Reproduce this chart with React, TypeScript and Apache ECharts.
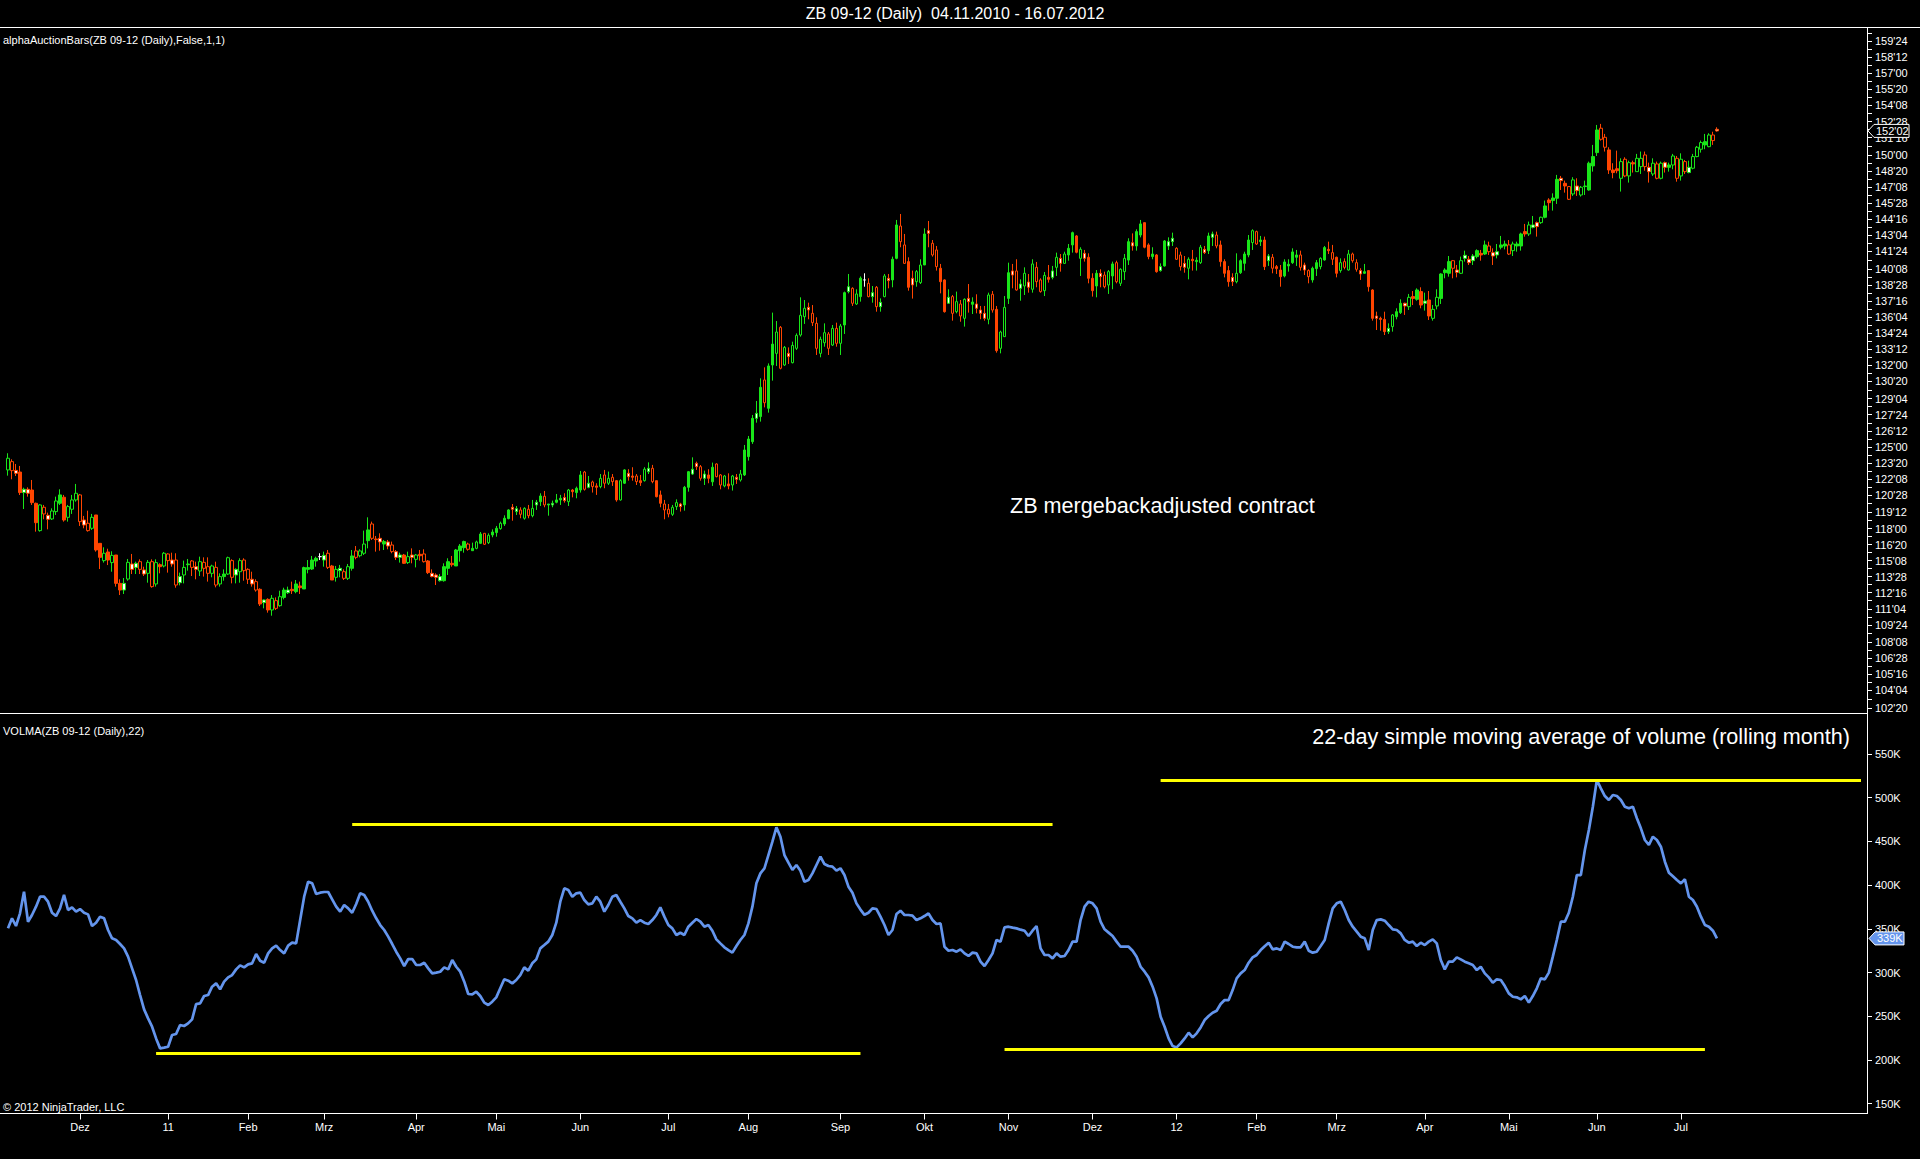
import React, { useEffect, useRef } from "react";
import * as echarts from "echarts";

// ---------- data ----------
const titleText = "ZB 09-12 (Daily)  04.11.2010 - 16.07.2012";
const priceTickLabels = ["159'24","158'12","157'00","155'20","154'08","152'28","151'16","150'00","148'20","147'08","145'28","144'16","143'04","141'24","140'08","138'28","137'16","136'04","134'24","133'12","132'00","130'20","129'04","127'24","126'12","125'00","123'20","122'08","120'28","119'12","118'00","116'20","115'08","113'28","112'16","111'04","109'24","108'08","106'28","105'16","104'04","102'20"];
const volTickLabels = [150, 200, 250, 300, 350, 400, 450, 500, 550]; // in K
const monthLabels = ["Dez","11","Feb","Mrz","Apr","Mai","Jun","Jul","Aug","Sep","Okt","Nov","Dez","12","Feb","Mrz","Apr","Mai","Jun","Jul"];
const monthStartBars = [19,41,61,80,103,123,144,166,186,209,230,251,272,293,313,333,355,376,398,419]; // 1-based bar numbers

// daily bars: [open, close, high, low]
const ohlc: number[][] = [
[123.02,124.02,124.45,122.53],[123.73,122.96,123.93,122.22],[122.98,122.73,123.53,122.5],[122.84,121.08,123.36,120.87],[121.08,121.36,121.5,119.67],[121.36,121.02,121.53,120.73],[121.3,120.22,122.16,120.02],[120.16,118.5,120.22,117.73],[117.82,120.02,120.08,117.73],[119.82,119.25,120.02,118.79],
[119.13,118.79,119.36,117.93],[118.82,119.5,119.73,118.73],[119.45,120.36,120.73,119.16],[120.16,120.88,121.36,120.02],[120.68,118.73,120.88,118.59],[118.96,119.88,120.02,118.59],[119.65,120.45,120.88,119.25],[120.45,121.02,121.82,120.3],[120.88,118.59,120.96,118.22],[118.73,118.3,119.08,118.02],
[118.45,117.82,119.53,117.73],[118.02,118.96,119.25,117.88],[119.16,116.16,119.16,116.02],[116.73,115.53,116.73,114.53],[115.25,115.88,116.39,115.08],[115.99,115.3,116.27,114.87],[115.08,115.7,116.05,114.3],[115.73,113.3,115.73,113.02],[113.3,112.73,113.65,112.3],[112.73,113.3,113.76,112.39],
[113.67,115.1,115.39,113.53],[114.96,114.5,115.82,114.1],[114.67,115.02,115.16,114.1],[115.16,114.5,115.36,114.1],[114.45,114.1,114.73,113.93],[114.16,115.1,115.3,113.36],[115.16,113.02,115.36,112.93],[113.25,115.08,115.36,113.02],[114.9,114.73,115.02,114.16],[114.79,115.88,115.99,114.67],
[115.82,115.25,115.88,114.22],[115.3,114.96,115.93,114.73],[115.3,113.16,115.88,112.93],[113.36,113.88,114.22,113.13],[114.02,114.67,115.25,113.3],[114.9,114.96,115.39,114.39],[115.22,114.67,115.3,113.93],[114.73,114.5,115.16,113.65],[114.36,115.16,115.59,113.93],[115.1,114.59,115.53,113.88],
[114.73,114.16,115.53,113.45],[114.16,114.79,114.9,113.82],[114.67,113.16,115.16,112.96],[113.25,113.88,114.16,113.02],[113.88,114.1,114.5,113.53],[114.1,115.5,115.59,114.02],[115.25,113.82,115.36,113.3],[114.02,114.5,114.59,113.3],[114.3,115.25,115.45,113.36],[115.3,114.39,115.45,113.53],
[114.5,113.65,114.59,113.25],[113.65,113.25,114.3,113.02],[113.45,112.73,113.65,112.59],[112.79,111.53,112.88,111.36],[111.65,111.88,111.93,111.16],[111.93,111.02,112.02,110.79],[111.02,112.02,112.3,110.53],[111.82,111.16,112.1,111.02],[111.39,112.16,112.67,111.3],[112.1,112.73,112.93,111.93],
[112.5,112.73,113.02,112.39],[112.79,112.67,113.45,112.39],[112.59,113.25,113.59,112.45],[113.08,112.93,113.45,112.39],[112.82,114.65,114.73,112.82],[114.5,114.65,115.3,114.16],[114.53,115.3,115.65,114.45],[115.22,115.45,115.59,114.73],[115.59,115.59,115.88,115.3],[115.3,115.7,116.02,114.73],
[115.88,114.67,116.16,114.53],[114.79,113.59,114.88,113.59],[113.82,114.5,114.79,113.45],[114.39,114.59,114.88,113.82],[114.3,113.73,114.5,113.59],[113.73,114.73,114.96,113.59],[114.59,115.65,116.16,114.39],[116.08,115.53,116.5,115.36],[115.67,116.08,116.22,115.53],[115.88,116.67,117.82,115.73],
[116.96,117.88,118.96,116.3],[118.39,117.16,118.59,117.02],[117.1,117.05,117.36,116.02],[117.16,116.85,117.59,116.1],[116.67,116.88,117.02,116.16],[116.85,116.5,117.02,116.22],[116.59,116.02,116.88,115.88],[116.02,115.53,116.16,115.3],[115.53,115.73,115.93,115.08],[115.73,115.02,115.82,114.96],
[115.08,115.59,116.02,114.96],[115.73,115.53,116.3,115.02],[115.36,115.73,115.82,114.67],[115.79,115.67,116.16,115.25],[115.82,115.16,116.22,115.08],[115.22,114.22,115.3,114.1],[114.16,113.88,114.5,113.82],[114.02,113.82,114.16,113.16],[113.53,113.88,114.1,113.45],
[113.53,114.73,115.02,113.45],[114.59,115.16,115.45,114.02],[115.02,114.9,115.65,114.73],[114.79,116.16,116.25,114.79],[116.1,116.5,116.67,115.16],[116.36,116.88,116.96,115.93],[116.67,116.22,116.79,116.1],[116.1,116.3,116.79,116.1],[116.3,116.85,116.96,116.22],[116.73,117.53,117.7,116.67],
[117.59,116.65,117.59,116.59],[116.79,117.42,117.59,116.67],[117.45,117.7,117.93,117.25],[117.65,118.02,118.22,117.3],[117.99,118.45,118.59,117.9],[118.39,118.88,119.13,118.22],[118.85,119.59,119.65,118.79],[119.82,119.65,120.1,118.67],[119.45,119.7,119.93,119.16],[119.59,119.22,119.82,118.88],
[118.88,119.73,119.82,118.76],[119.65,119.1,120.02,118.88],[119.1,119.73,120.45,118.96],[120.02,120.25,120.45,119.59],[120.3,120.79,121.02,119.93],[120.76,120.02,121.22,119.82],[120.02,120.1,120.1,119.1],[120.02,120.16,120.39,119.82],[120.25,120.45,120.96,120.16],[120.45,120.59,120.88,120.02],
[120.65,120.39,121.02,120.22],[120.3,121.3,121.39,119.93],[121.3,121.16,121.39,120.67],[121.08,121.45,121.59,120.59],[121.3,122.59,122.93,121.08],[122.84,121.36,122.93,121.25],[121.53,121.88,122.5,121.45],[121.99,121.59,122.1,121.08],[121.65,121.53,121.88,120.88],[121.59,122.3,122.67,121.45],
[122.59,121.88,123.02,121.45],[121.88,122.3,122.88,121.73],[122.39,122.02,122.67,121.65],[122.1,120.45,122.16,120.3],[120.45,122.1,122.22,120.39],[121.88,123.02,123.08,121.82],[122.73,122.44,123.08,122.1],[122.5,122.39,123.25,122.1],[122.5,122.02,122.67,121.73],[122.1,121.93,122.59,121.65],
[122.1,123.08,123.25,122.02],[122.87,123.16,123.67,122.67],[123.16,122.02,123.45,121.88],[122.1,120.73,122.1,120.67],[120.88,120.16,121.25,119.82],[120.1,119.59,120.45,118.79],[119.65,119.25,120.1,118.96],[119.22,119.82,120.02,119.08],[119.88,120.22,120.5,119.59],[120.1,119.88,120.2,119.45],
[120.02,121.53,121.65,119.53],[121.53,122.87,122.93,121.16],[122.67,123.08,124.1,122.59],[123.59,123.3,123.73,123.02],[123.3,122.3,123.44,122.1],[122.3,122.67,122.96,121.73],[122.59,122.3,123.08,121.88],[122.0,123.25,123.65,121.65],[123.53,122.44,123.59,122.39],[122.59,121.73,122.67,121.36],
[121.65,122.5,122.59,121.53],[121.82,121.65,122.73,121.36],[121.73,122.5,122.59,121.25],[122.39,122.22,122.67,121.82],[122.16,122.67,123.02,122.02],[122.59,124.73,125.16,122.5],[124.16,125.67,125.93,123.82],[125.44,127.44,127.73,125.25],[127.44,127.87,128.93,127.07],[127.59,130.1,130.87,127.16],
[130.73,128.78,131.81,128.38],[128.3,131.93,132.15,127.93],[132.01,133.8,136.5,130.67],[133.01,134.84,135.78,131.93],[135.24,131.73,135.35,131.64],[132.01,133.52,133.64,131.93],[133.01,132.73,133.52,132.1],[132.21,133.69,134.01,132.15],[133.44,134.55,134.72,133.3],[134.58,136.27,137.81,134.44],
[136.15,136.87,137.58,135.53],[136.95,136.73,137.35,135.93],[136.44,135.64,137.15,135.35],[135.58,133.44,136.1,132.87],[133.01,134.21,134.44,132.67],[133.92,134.78,135.58,133.58],[134.67,133.44,134.84,132.87],[133.72,135.15,135.44,133.64],[135.15,133.87,135.64,133.58],[133.87,135.35,135.53,132.87],
[135.44,138.21,138.3,134.67],[138.3,138.72,139.81,138.15],[138.58,137.3,138.67,137.07],[137.24,138.1,138.5,137.15],[137.87,139.45,139.6,137.44],[139.3,139.3,139.87,138.72],[139.01,137.87,139.44,137.81],
[137.87,138.21,138.78,137.35],[138.67,137.01,138.78,136.58],[137.01,137.38,137.72,136.58],[137.87,139.64,139.81,137.81],[139.44,139.24,139.81,138.58],[139.3,141.07,141.3,138.67],[141.15,144.01,144.44,141.07],[143.92,142.58,144.95,142.1],[142.3,140.72,143.24,140.67],[140.87,138.67,141.24,138.38],
[139.44,138.87,140.1,137.7],[139.15,140.01,140.15,138.72],[139.07,140.58,141.07,138.95],[140.58,143.24,143.72,140.58],[143.52,143.29,144.35,142.1],[142.44,141.44,142.72,141.3],[141.87,140.44,142.21,140.1],[140.3,139.15,140.67,138.15],[139.3,136.58,139.35,136.5],[137.3,137.81,138.5,137.24],
[137.87,136.44,138.01,135.81],[136.58,137.44,138.3,136.44],[137.24,136.21,137.58,135.72],[136.01,137.64,137.72,135.3],[137.72,137.44,138.95,136.5],[137.21,137.41,137.81,136.38],[137.24,136.87,138.07,136.44],[136.72,136.44,137.07,135.93],[136.44,136.01,137.07,135.81],[135.93,138.01,138.21,135.5],
[138.07,136.72,138.35,136.5],[136.78,133.24,137.07,133.07],[133.44,134.84,134.95,133.01],[134.44,136.95,137.92,134.44],[137.72,139.92,140.78,137.24],[140.07,139.72,140.67,138.58],[140.07,138.44,141.07,138.38],[138.58,138.95,139.35,137.52],[138.78,139.87,140.38,138.01],[139.12,138.67,139.81,138.21],
[138.5,140.67,141.07,138.21],[140.38,139.15,140.84,138.67],[139.3,138.3,139.44,138.21],[138.38,139.69,139.98,137.92],[139.52,139.35,140.58,139.07],[139.52,140.07,140.5,139.35],[140.38,141.24,141.64,139.64],[141.15,140.72,141.52,140.01],[140.72,141.52,141.72,140.67],[141.44,142.01,142.38,140.95],
[142.3,143.35,143.44,141.64],[143.07,141.67,143.15,141.58],[141.15,141.92,142.1,139.64],[141.58,141.15,141.87,140.87],[141.24,139.44,141.58,139.01],[139.44,138.38,139.87,137.87],[138.78,139.87,140.15,137.81],[139.87,139.58,140.21,138.67],[139.72,138.72,140.01,138.58],[138.87,140.01,140.15,138.1],
[139.64,140.67,140.87,138.5],[140.78,139.15,140.95,139.01],[139.01,140.21,140.3,138.78],[140.01,141.15,141.52,139.3],[141.0,142.58,142.87,140.58],[142.49,142.21,143.29,141.81],[142.21,143.44,143.64,141.81],[143.15,144.1,144.44,142.95],[144.21,142.1,144.21,142.01],[142.3,141.3,142.44,141.07],
[141.3,141.52,142.1,141.07],[141.44,140.01,141.52,139.92],[140.1,140.44,140.72,140.01],[140.5,142.64,142.72,140.44],[142.21,142.58,142.95,141.87],[142.58,142.87,143.35,142.21],[142.01,141.07,142.1,141.01],[141.44,140.44,141.72,140.1],[140.72,140.38,141.35,139.92],[140.3,141.07,141.24,139.35],
[141.07,140.95,141.87,140.1],[140.87,140.98,141.24,140.1],[140.78,142.1,142.3,140.67],[141.92,141.64,142.21,141.52],[141.81,143.07,143.35,141.52],[142.95,143.24,143.44,142.21],[143.15,142.21,143.44,142.01],[142.3,140.87,142.67,140.44],[140.87,139.87,141.07,139.52],[140.1,139.15,140.5,138.72],
[139.52,139.15,139.87,138.78],[139.15,139.87,141.58,139.01],[139.92,140.95,141.07,139.81],[140.72,141.52,141.72,140.1],[141.44,142.72,143.15,141.24],[142.5,143.52,143.64,141.87],[143.44,142.38,143.52,142.3],[142.58,142.72,143.07,142.21],[142.72,140.44,143.01,140.15],[140.95,141.35,141.52,140.5],
[141.24,140.3,141.52,139.87],[140.44,140.27,140.58,139.81],[140.15,139.58,140.58,138.72],[139.64,140.84,141.07,139.52],[140.5,140.64,141.07,140.01],[140.78,141.7,142.01,140.67],[141.24,141.44,141.87,140.5],[141.44,140.38,141.81,140.1],
[140.58,140.15,140.78,139.72],[140.1,139.58,140.21,139.01],[139.3,140.3,140.44,139.07],[140.27,140.78,141.01,139.64],[140.44,141.15,141.24,140.21],[141.01,142.07,142.21,140.95],[141.92,141.81,142.58,141.52],[141.64,141.07,142.3,140.58],[141.24,139.87,141.3,139.52],[140.1,140.78,141.15,139.92],
[140.87,140.38,141.15,140.21],[140.15,141.52,141.87,140.1],[141.52,140.95,141.64,140.78],[140.78,140.21,141.07,140.01],[140.1,139.81,140.3,139.3],[139.87,140.01,140.67,139.81],[140.1,138.72,140.15,138.3],[138.44,136.01,138.5,135.81],[136.21,136.01,136.58,135.01],[136.01,135.92,136.15,134.95],
[135.92,134.87,136.58,134.58],[134.87,135.15,135.58,134.67],[135.3,136.3,136.38,134.87],[136.15,136.58,136.87,135.92],[136.5,137.3,137.64,136.38],[137.3,137.07,137.35,136.3],[137.01,137.81,138.1,136.73],[137.87,137.72,138.35,137.15],[137.64,138.44,138.58,137.52],[138.3,137.15,138.67,136.87],
[137.3,137.49,138.21,136.67],[137.58,136.21,138.35,135.87],[136.01,136.78,137.15,135.81],[137.07,137.81,138.5,136.78],[137.72,139.81,139.87,137.24],[139.92,140.15,140.3,139.44],[139.87,140.87,141.35,139.58],[140.95,140.3,141.01,139.44],[140.15,139.95,140.58,139.52],[139.87,140.95,141.3,139.81],
[141.15,141.41,141.81,140.87],[141.07,140.78,141.35,140.58],[140.95,141.35,141.52,140.58],[141.3,141.81,141.92,141.15],[141.58,141.44,141.87,140.95],[141.52,142.3,142.67,141.44],[142.21,141.72,142.58,141.44],[141.64,141.35,142.01,140.58],[141.44,141.72,142.38,141.15],[142.1,142.3,143.07,141.92],
[142.21,142.38,142.67,141.92],[142.3,141.52,142.72,141.44],[141.81,142.38,142.58,141.35],[142.21,142.38,142.58,141.72],[142.21,143.24,143.35,141.81],[143.44,143.24,144.1,143.01],[143.24,144.01,144.3,143.07],[143.81,144.01,144.78,143.72],[144.21,143.87,144.3,143.01],[144.21,144.67,144.72,144.1],
[144.67,145.64,146.1,144.58],[146.15,145.92,146.3,145.24],[146.1,146.32,146.72,145.24],[146.3,147.92,148.3,145.81],[148.01,147.81,148.21,147.01],[147.58,147.35,147.81,146.78],[147.3,146.21,147.35,146.15],[146.67,147.87,148.1,146.5],[147.35,146.95,148.01,146.5],[146.58,147.24,147.35,146.44],
[147.3,147.35,147.81,146.58],[147.01,149.3,149.44,146.95],[149.07,149.87,150.87,148.58],[150.21,152.15,152.58,149.92],[152.3,151.35,152.67,151.24],[151.52,150.67,151.81,150.3],[150.44,148.72,150.67,148.38],[148.72,148.5,149.3,148.01],[148.83,148.66,150.38,148.44],[148.01,149.44,149.72,146.87],
[149.64,148.21,149.81,148.1],[148.21,149.35,149.52,147.64],[149.35,149.24,149.52,148.5],[148.58,149.72,150.1,148.58],[149.01,149.72,150.3,148.38],[150.01,149.01,150.3,148.66],[148.95,148.58,149.35,147.64],[148.38,149.3,149.72,148.21],[149.24,148.01,149.44,147.92],[148.01,149.3,149.44,147.92],
[149.35,148.95,149.44,148.5],[148.95,149.15,149.35,148.58],[149.15,149.92,150.1,148.78],[149.72,148.01,149.92,147.72],[148.21,149.64,150.15,147.81],[149.44,148.58,149.58,148.38],[148.5,148.95,149.52,148.44],[148.87,149.87,150.1,148.78],[149.87,150.67,150.78,149.81],[150.5,151.07,151.24,150.21],
[150.87,151.15,151.81,150.5],[150.72,151.72,151.87,150.67],[151.72,151.24,152.0,150.87],[152.21,152.07,152.38,152.01]
];

// body style per bar: f = filled, h = hollow, w = white centre, x = white doji
const barStyle =
  "hhwfwwffhh" + "whhffhhhhw" + "hhffhfhffw" + "hwwhwhhhfh" + "hwhwhfhwhh" + "hhhhfhhwhh" + "hwhfwfhhhf" + "wfffffffxw" + "hfhwhhfhhh" + "fhfwfwhwwf" + "hwhfhfwww" +
  "ffffffhfhf" + "hhffhffwwh" + "hhhwfhfwff" + "whfffhwhfh" + "hhhfhfwfhf" + "hwhffhhhhw" + "ffwwhwffhh" + "hfhwhfffwf" + "hffhhhwhhh" + "hwhhhhhhhh" + "fwhhfxh" +
  "whwhwffhhf" + "whhfwhhffw" + "hhhhwfwwwh" + "hfhhfwhwhw" + "hhhhfwhwhf" + "ffhwfffwhh" + "fhhhfwffff" + "ffwfwwhhwh" + "ffhwfwhfff" + "whfffhhffw" + "hffffffh" +
  "whffhffhfh" + "hhhhwfffwf" + "fwhffwhfff" + "wfhhfffhwh" + "wwwfffhwwf" + "fhhfffhwwh" + "ffffwfhhwh" + "ffffhhfffh" + "hhfhhhwhhh" + "wfhhhhwhhh" + "fhhw";

// 22-day SMA of volume, in thousands of contracts
const volma: number[] = [
350.5,362.0,353.2,367.7,392.5,358.1,365.8,375.3,386.7,386.7,381.0,368.4,364.6,373.4,388.7,371.5,374.5,369.6,372.6,368.4,366.5,353.2,357.0,363.9,362.0,348.6,339.1,
337.2,332.6,327.6,318.1,304.7,291.4,274.2,257.8,247.5,238.0,224.6,213.2,214.0,215.1,228.5,229.6,239.9,238.8,241.8,246.4,263.9,264.7,273.1,274.2,283.8,287.6,280.7,289.5,294.4,297.1,303.6,308.2,
305.9,309.3,310.5,321.1,313.5,311.2,321.9,327.6,330.7,325.7,321.9,330.7,334.1,333.3,360.0,386.7,403.9,402.0,389.8,391.3,392.1,392.1,
383.7,375.3,369.6,377.2,373.4,368.4,378.4,390.6,388.7,381.0,370.7,362.0,354.3,348.6,341.0,332.6,323.8,316.2,307.4,315.4,315.4,308.6,
308.6,311.2,304.7,299.0,299.8,300.9,305.9,303.6,314.3,306.6,300.9,289.5,275.4,275.0,
278.0,273.1,265.5,262.8,266.6,271.6,281.9,292.2,290.6,287.6,291.4,297.1,305.9,302.1,310.5,315.0,327.6,331.4,335.3,342.9,357.0,381.0,396.3,394.4,386.7,390.6,391.3,
382.9,378.0,379.1,386.7,381.0,369.6,377.2,386.7,388.7,381.0,373.4,364.6,362.0,357.0,360.0,357.0,355.5,360.0,365.8,374.5,363.9,354.3,350.5,342.9,345.5,342.9,352.4,357.0,361.2,358.1,352.4,354.3,
347.8,337.9,333.3,328.8,325.7,322.7,330.3,337.2,342.9,356.2,375.3,402.0,413.4,419.2,434.4,449.7,466.1,455.4,434.4,425.6,417.3,423.0,416.5,403.9,405.8,413.4,423.0,432.5,424.1,421.8,421.1,416.5,419.2,
411.5,398.2,391.3,379.1,
372.0,366.0,368.4,373.4,372.6,363.9,354.3,342.9,348.6,366.9,370.7,365.8,365.8,365.0,360.0,362.0,364.6,367.7,360.0,355.5,
356.2,329.5,324.9,325.7,323.8,326.5,321.9,318.9,322.7,321.9,312.4,307.4,314.3,321.9,337.2,335.3,351.7,352.4,351.3,350.5,349.0,
347.8,341.7,347.8,353.2,327.6,320.0,320.0,316.2,321.9,318.1,318.9,325.7,335.3,335.3,360.0,375.3,381.0,379.1,373.4,358.1,
349.4,345.6,341.7,335.3,329.5,329.5,329.5,324.9,318.1,306.6,300.9,294.4,283.8,270.4,249.4,238.0,224.6,215.9,214.3,218.9,
224.6,231.1,225.8,230.4,237.2,245.6,250.2,254.0,256.3,263.9,268.5,268.5,279.9,293.3,299.0,302.8,311.2,317.3,320.0,325.7,330.0,
334.1,326.5,327.6,325.7,335.3,332.6,329.5,328.8,328.8,335.3,324.9,322.7,323.8,330.3,337.2,356.2,373.4,379.1,381.0,371.5,
360.0,352.4,346.7,341.0,339.1,325.7,348.6,360.0,360.8,359.3,354.3,349.4,348.6,344.8,337.2,334.1,335.3,330.3,334.1,331.4,
335.3,337.9,333.3,314.3,303.6,312.4,312.4,317.3,315.0,312.4,310.5,
308.6,302.8,306.6,299.0,294.4,288.3,292.2,291.4,284.5,276.1,272.3,271.6,269.3,273.1,265.5,273.1,281.9,293.3,292.2,299.8,
318.1,337.2,358.1,358.1,368.4,386.7,411.5,411.5,440.1,463.0,489.7,520.2,510.7,501.9,497.3,503.1,501.9,497.3,489.7,487.8,
489.7,476.4,464.9,451.6,445.9,455.4,451.6,443.9,426.8,414.2,410.0,
405.8,402.0,406.6,386.7,382.9,375.3,363.9,354.3,352.4,347.8,339.0
];

// yellow level lines drawn on the volume pane: [from bar index (0-based), to bar index, level in K]
const levelLines: number[][] = [
  [37, 213, 208],
  [86, 261, 470],
  [288, 463, 520.5],
  [249, 424, 212],
];

// ---------- styling ----------
const UP = "#19E619";
const DN = "#FF4500";
const VOL = "#6495ED";
const FONT = "'Liberation Sans', Arial, sans-serif";
const TOTAL_SLOTS = 465;

const from32 = (s: string) => {
  const [a, b] = s.split("'");
  return Number(a) + Number(b) / 32;
};
const to32 = (v: number) => {
  let w = Math.floor(v + 1e-9);
  let t = Math.round((v - w) * 32);
  if (t === 32) { w += 1; t = 0; }
  return `${w}'${String(t).padStart(2, "0")}`;
};

export default function App() {
  const ref = useRef<HTMLDivElement>(null);

  useEffect(() => {
    if (!ref.current) return;
    const chart = echarts.init(ref.current, null, { renderer: "svg" });

    const cats = Array.from({ length: TOTAL_SLOTS }, (_, i) => String(i));
    const labelMap = new Map<number, string>();
    monthStartBars.forEach((b, i) => labelMap.set(b - 1, monthLabels[i]));

    const priceLabelVals = priceTickLabels.map(from32);
    const priceTickVals: number[] = [];
    priceLabelVals.forEach((v, i) => {
      priceTickVals.push(v);
      if (i < priceLabelVals.length - 1) priceTickVals.push((v + priceLabelVals[i + 1]) / 2);
    });
    priceTickVals.push(priceLabelVals[0] + (priceLabelVals[0] - priceLabelVals[1]) / 2);

    const candleData = ohlc.map(([o, c, h, l], i) => {
      const s = barStyle[i] || "f";
      const col = c >= o ? UP : DN;
      const fill = s === "f" ? col : s === "h" ? "#000000" : "#ffffff";
      const border = s === "x" ? "#ffffff" : col;
      return {
        value: [o, c, l, h],
        itemStyle: { color: fill, color0: fill, borderColor: border, borderColor0: border, borderColorDoji: border },
      };
    });

    const axisText = { color: "#ffffff", fontSize: 11, fontFamily: FONT };

    const option: any = {
      animation: false,
      backgroundColor: "#000000",
      grid: [
        { left: 6, top: 27.5, width: 1861, height: 686 },
        { left: 6, top: 713.5, width: 1861, height: 400 },
      ],
      xAxis: [
        { type: "category", gridIndex: 0, data: cats, boundaryGap: true, show: false },
        {
          type: "category", gridIndex: 1, data: cats, boundaryGap: true,
          axisLine: { show: true, lineStyle: { color: "#ffffff", width: 1 } },
          axisTick: { show: true, alignWithLabel: true, length: 6, interval: (i: number) => labelMap.has(i), lineStyle: { color: "#ffffff" } },
          axisLabel: { ...axisText, margin: 8, interval: (i: number) => labelMap.has(i), formatter: (v: string) => labelMap.get(Number(v)) || "" },
          splitLine: { show: false },
        },
      ],
      yAxis: [
        {
          type: "value", gridIndex: 0, position: "right", min: 102.15, max: 160.93, scale: true,
          axisLine: { show: true, lineStyle: { color: "#ffffff", width: 1 } },
          axisTick: { show: true, length: 5, customValues: priceTickVals, lineStyle: { color: "#ffffff" } },
          axisLabel: { ...axisText, margin: 8, customValues: priceLabelVals, formatter: (v: number) => to32(v) },
          splitLine: { show: false },
        },
        {
          type: "value", gridIndex: 1, position: "right", min: 138.7, max: 596.3, scale: true,
          axisLine: { show: true, lineStyle: { color: "#ffffff", width: 1 } },
          axisTick: { show: true, length: 5, customValues: volTickLabels, lineStyle: { color: "#ffffff" } },
          axisLabel: { ...axisText, margin: 8, customValues: volTickLabels, formatter: (v: number) => `${Math.round(v)}K` },
          splitLine: { show: false },
        },
      ],
      series: [
        {
          type: "candlestick", xAxisIndex: 0, yAxisIndex: 0, data: candleData,
          barWidth: 3, itemStyle: { borderWidth: 1 }, silent: true,
        },
        {
          type: "line", xAxisIndex: 1, yAxisIndex: 1, data: volma, showSymbol: false, symbol: "none",
          lineStyle: { color: VOL, width: 2.7 }, itemStyle: { color: VOL }, silent: true,
          markLine: {
            silent: true, symbol: ["none", "none"], animation: false,
            label: { show: false },
            lineStyle: { color: "#FFFF00", width: 3, type: "solid" },
            emphasis: { disabled: true },
            data: levelLines.map(([a, b, v]) => [{ coord: [a, v] }, { coord: [b, v] }]),
          },
        },
      ],
    };
    chart.setOption(option);

    const lastClose = ohlc[ohlc.length - 1][1];
    const lastVol = volma[volma.length - 1];
    const py = chart.convertToPixel({ yAxisIndex: 0 }, lastClose) as number;
    const vy = chart.convertToPixel({ yAxisIndex: 1 }, lastVol) as number;

    const txt = (text: string, x: number, y: number, size: number, align = "left") => ({
      type: "text", x, y, z: 100,
      style: { text, fill: "#ffffff", fontSize: size, fontFamily: FONT, textAlign: align, textVerticalAlign: "middle" },
    });
    const hline = (x1: number, x2: number, y: number) => ({
      type: "line", z: 90, shape: { x1, y1: y, x2, y2: y }, style: { stroke: "#ffffff", lineWidth: 1 },
    });
    const marker = (y: number, fill: string, text: string, x0: number, x1: number) => [
      {
        type: "polygon", z: 110,
        shape: { points: [[x0, y], [x0 + 6, y - 6.5], [x1, y - 6.5], [x1, y + 6.5], [x0 + 6, y + 6.5]] },
        style: { fill, stroke: "#ffffff", lineWidth: 1 },
      },
      { type: "text", z: 111, x: x0 + 8, y, style: { text, fill: "#ffffff", fontSize: 11, fontFamily: FONT, textVerticalAlign: "middle" } },
    ];

    chart.setOption({
      graphic: {
        elements: [
          hline(0, 1920, 27.5),
          hline(0, 1867.5, 713.5),
          hline(0, 1867.5, 1113.5),
          txt(titleText, 955, 13.5, 16, "center"),
          txt("alphaAuctionBars(ZB 09-12 (Daily),False,1,1)", 3, 39.5, 11),
          txt("ZB mergebackadjusted contract", 1010, 505, 21.6),
          txt("VOLMA(ZB 09-12 (Daily),22)", 3, 731, 11),
          txt("22-day simple moving average of volume (rolling month)", 1850, 736, 21.6, "right"),
          txt("\u00A9 2012 NinjaTrader, LLC", 3, 1107, 11),
          ...marker(py, "#000000", to32(lastClose), 1868, 1909),
          ...marker(vy, VOL, `${Math.round(lastVol)}K`, 1869, 1904),
        ],
      },
    });

    return () => chart.dispose();
  }, []);

  return (
    <div
      ref={ref}
      style={{ position: "fixed", left: 0, top: 0, width: 1920, height: 1159, background: "#000" }}
    />
  );
}
